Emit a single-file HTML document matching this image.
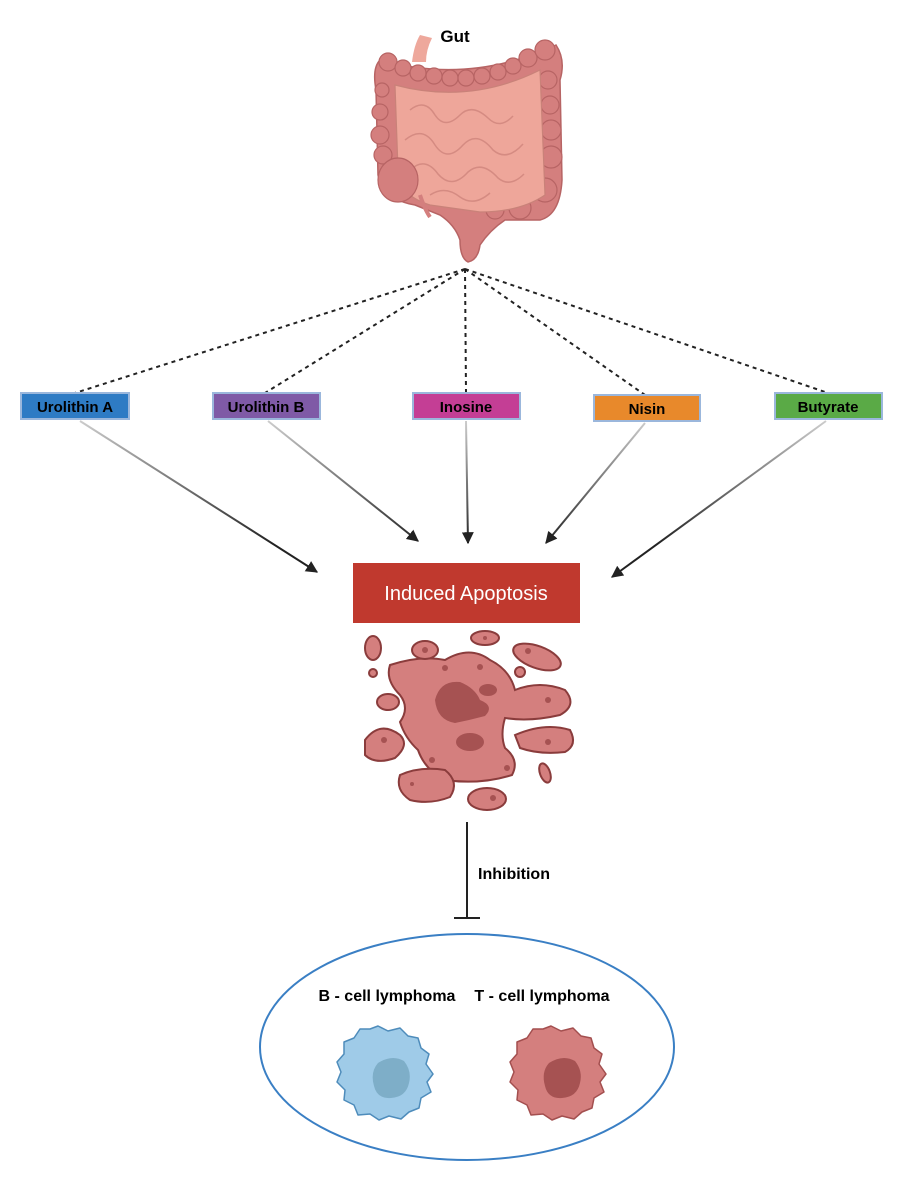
<!DOCTYPE html>
<html><head><meta charset="utf-8"><style>
html,body{margin:0;padding:0;background:#fff;}
svg{display:block;}
text{font-family:"Liberation Sans",Arial,sans-serif;}
</style></head><body>
<svg width="904" height="1200" viewBox="0 0 904 1200" xmlns="http://www.w3.org/2000/svg">
<defs>
<marker id="ah" viewBox="0 0 10 10" refX="9" refY="5" markerWidth="12" markerHeight="12" orient="auto-start-reverse" markerUnits="userSpaceOnUse">
<path d="M0,0 L10,5 L0,10 z" fill="#222"/></marker>
<linearGradient id="g1" gradientUnits="userSpaceOnUse" x1="0" y1="421" x2="0" y2="545"><stop offset="0" stop-color="#ccc"/><stop offset="1" stop-color="#222"/></linearGradient>
</defs>

<!-- Gut -->
<text x="455" y="42" font-size="17" font-weight="bold" text-anchor="middle">Gut</text>
<path d="M412 62 Q414 45 420 35 L432 38 Q426 50 426 62 Z" fill="#eea89c"/>
<path d="M380 60 Q470 85 556 45 Q566 60 560 80 L562 180 Q560 215 540 220 L505 220 Q490 230 480 245 Q478 260 468 262 Q460 258 460 240 Q455 225 440 215 L415 205 Q385 200 378 175 L376 90 Q372 68 380 60 Z" fill="#d47f7e" stroke="#b76464" stroke-width="1.5"/>
<g fill="#d47f7e" stroke="#b76464" stroke-width="1.2">
<circle cx="388" cy="62" r="9"/><circle cx="403" cy="68" r="8"/><circle cx="418" cy="73" r="8"/><circle cx="434" cy="76" r="8"/><circle cx="450" cy="78" r="8"/><circle cx="466" cy="78" r="8"/><circle cx="482" cy="76" r="8"/><circle cx="498" cy="72" r="8"/><circle cx="513" cy="66" r="8"/><circle cx="528" cy="58" r="9"/><circle cx="545" cy="50" r="10"/>
<circle cx="382" cy="90" r="7"/><circle cx="380" cy="112" r="8"/><circle cx="380" cy="135" r="9"/><circle cx="383" cy="155" r="9"/>
<circle cx="548" cy="80" r="9"/><circle cx="550" cy="105" r="9"/><circle cx="551" cy="130" r="10"/><circle cx="551" cy="157" r="11"/><circle cx="545" cy="190" r="12"/><circle cx="520" cy="208" r="11"/><circle cx="495" cy="210" r="9"/>
</g>
<path d="M395 85 Q470 105 540 70 L545 195 Q520 212 480 212 L430 205 Q398 195 398 170 Z" fill="#eea69a" stroke="#c98279" stroke-width="1.2"/>
<g fill="none" stroke="#d58b82" stroke-width="1.5">
<path d="M410 110 q15 -12 25 5 q10 15 25 0 q12 -12 28 3 q12 12 25 -2"/>
<path d="M405 140 q18 -15 30 5 q12 18 28 0 q14 -15 30 5 q14 12 30 -6"/>
<path d="M410 170 q15 -14 28 4 q14 16 30 -2 q14 -12 30 6 q12 10 26 -4"/>
<path d="M430 195 q15 -10 30 2 q14 10 30 -4"/>
</g>
<path d="M420 195 Q425 210 430 217" stroke="#d47f7e" stroke-width="4" fill="none"/>
<ellipse cx="398" cy="180" rx="20" ry="22" fill="#d47f7e" stroke="#b76464" stroke-width="1.2"/>

<!-- dashed lines -->
<g stroke="#222" stroke-width="2" stroke-dasharray="4,4" fill="none">
<line x1="465" y1="269" x2="75" y2="393"/>
<line x1="465" y1="269" x2="265" y2="393"/>
<line x1="465" y1="269" x2="466" y2="393"/>
<line x1="465" y1="269" x2="645" y2="395"/>
<line x1="465" y1="269" x2="828" y2="393"/>
</g>

<!-- boxes -->
<g stroke="#9bb7dc" stroke-width="2">
<rect x="21" y="393" width="108" height="26" fill="#2e7bc4"/>
<rect x="213" y="393" width="107" height="26" fill="#7f5aa6"/>
<rect x="413" y="393" width="107" height="26" fill="#c43e95"/>
<rect x="594" y="395" width="106" height="26" fill="#e8892b"/>
<rect x="775" y="393" width="107" height="26" fill="#5aaa46"/>
</g>
<g font-size="15" font-weight="bold" text-anchor="middle" fill="#000">
<text x="75" y="412">Urolithin A</text>
<text x="266" y="412">Urolithin B</text>
<text x="466" y="412">Inosine</text>
<text x="647" y="414">Nisin</text>
<text x="828" y="412">Butyrate</text>
</g>

<!-- arrows -->
<g stroke="url(#g1)" stroke-width="2" fill="none" marker-end="url(#ah)">
<line x1="80" y1="421" x2="317" y2="572"/>
<line x1="268" y1="421" x2="418" y2="541"/>
<line x1="466" y1="421" x2="468" y2="543"/>
<line x1="645" y1="423" x2="546" y2="543"/>
<line x1="826" y1="421" x2="612" y2="577"/>
</g>

<!-- Induced Apoptosis -->
<rect x="353" y="563" width="227" height="60" fill="#c0392e"/>
<text x="466" y="600" font-size="20" fill="#fff" text-anchor="middle">Induced Apoptosis</text>

<!-- apoptotic body -->
<g fill="#d47f7e" stroke="#8a3c3c" stroke-width="2">
<path d="M390 665 Q420 655 445 660 Q470 645 490 660 Q510 670 515 690 Q540 680 565 690 Q578 705 560 715 Q530 722 505 718 Q500 735 505 748 Q520 760 512 775 Q480 785 445 780 Q425 770 418 750 Q405 738 400 722 Q410 708 400 695 Q385 680 390 665 Z"/>
<ellipse cx="373" cy="648" rx="8" ry="12"/>
<ellipse cx="373" cy="673" rx="4" ry="4"/>
<ellipse cx="388" cy="702" rx="11" ry="8"/>
<ellipse cx="425" cy="650" rx="13" ry="9"/>
<ellipse cx="485" cy="638" rx="14" ry="7"/>
<ellipse cx="537" cy="657" rx="25" ry="11" transform="rotate(20 537 657)"/>
<ellipse cx="520" cy="672" rx="5" ry="5"/>
<path d="M365 740 Q380 720 400 735 Q410 745 395 758 Q375 765 365 755 Z"/>
<path d="M515 735 Q545 722 570 730 Q578 745 565 752 Q540 755 520 748 Z"/>
<ellipse cx="545" cy="773" rx="5" ry="10" transform="rotate(-20 545 773)"/>
<path d="M400 775 Q420 766 445 770 Q460 782 450 797 Q430 805 410 800 Q395 790 400 775 Z"/>
<ellipse cx="487" cy="799" rx="19" ry="11"/>
</g>
<g fill="#a65252">
<path d="M435 700 Q440 680 460 682 Q475 688 480 700 Q495 706 485 716 Q470 720 455 723 Q437 720 435 700 Z"/>
<ellipse cx="488" cy="690" rx="9" ry="6"/>
<ellipse cx="470" cy="742" rx="14" ry="9"/>
<circle cx="425" cy="650" r="3"/><circle cx="485" cy="638" r="2"/><circle cx="528" cy="651" r="3"/>
<circle cx="384" cy="740" r="3"/><circle cx="548" cy="742" r="3"/><circle cx="412" cy="784" r="2"/><circle cx="493" cy="798" r="3"/>
<circle cx="432" cy="760" r="3"/><circle cx="507" cy="768" r="3"/><circle cx="445" cy="668" r="3"/><circle cx="480" cy="667" r="3"/><circle cx="548" cy="700" r="3"/>
</g>

<!-- inhibition -->
<line x1="467" y1="822" x2="467" y2="918" stroke="#222" stroke-width="2"/>
<line x1="454" y1="918" x2="480" y2="918" stroke="#222" stroke-width="2"/>
<text x="478" y="879" font-size="16" font-weight="bold">Inhibition</text>

<!-- ellipse -->
<ellipse cx="467" cy="1047" rx="207" ry="113" fill="none" stroke="#3a7fc4" stroke-width="2"/>
<text x="387" y="1001" font-size="16" font-weight="bold" text-anchor="middle">B - cell lymphoma</text>
<text x="542" y="1001" font-size="16" font-weight="bold" text-anchor="middle">T - cell lymphoma</text>

<!-- cells -->
<path d="M370 1029 l8 -3 l10 5 l12 -3 l8 8 l10 2 l3 10 l8 6 l-3 10 l7 10 l-6 8 l4 10 l-10 6 l-2 10 l-10 4 l-8 7 l-12 -3 l-10 4 l-9 -6 l-12 1 l-4 -10 l-10 -5 l1 -10 l-8 -8 l4 -10 l-4 -10 l7 -8 l0 -12 l10 -4 l6 -9 z" fill="#9fcbe8" stroke="#4e8cbb" stroke-width="1.5" stroke-linejoin="round"/>
<path d="M378 1063 q14 -9 26 -2 q8 10 5 22 q-3 14 -18 15 q-14 1 -17 -12 q-4 -14 4 -23 z" fill="#7eaec8"/>
<path d="M543 1029 l8 -3 l10 5 l12 -3 l8 8 l10 2 l3 10 l8 6 l-3 10 l7 10 l-6 8 l4 10 l-10 6 l-2 10 l-10 4 l-8 7 l-12 -3 l-10 4 l-9 -6 l-12 1 l-4 -10 l-10 -5 l1 -10 l-8 -8 l4 -10 l-4 -10 l7 -8 l0 -12 l10 -4 l6 -9 z" fill="#d47f7e" stroke="#a34f4f" stroke-width="1.5" stroke-linejoin="round"/>
<path d="M549 1063 q14 -9 26 -2 q8 10 5 22 q-3 14 -18 15 q-14 1 -17 -12 q-4 -14 4 -23 z" fill="#a65252"/>
</svg>
</body></html>
